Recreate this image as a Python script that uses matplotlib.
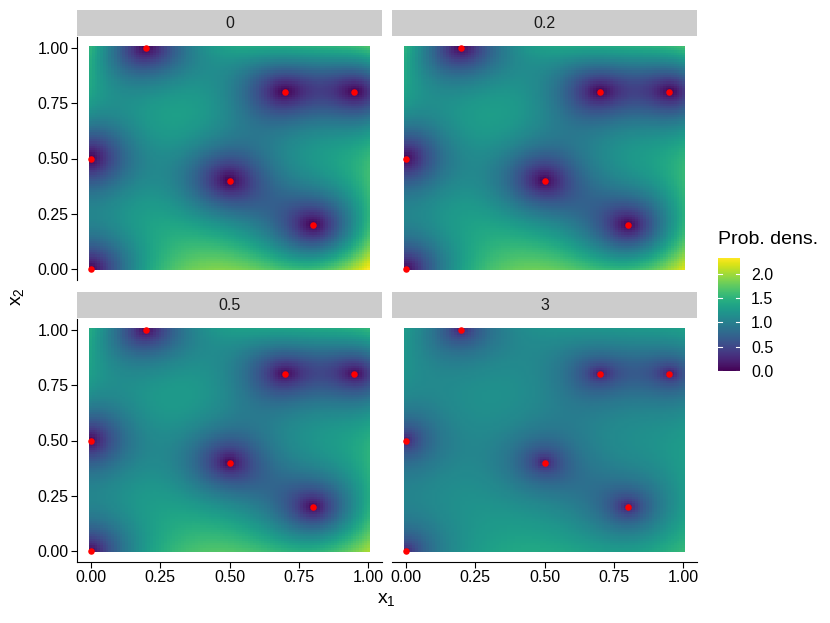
import matplotlib
matplotlib.use("Agg")
import matplotlib.pyplot as plt
import numpy as np

# design points (red dots)
x1_pts = [0.0, 0.0, 0.2, 0.5, 0.7, 0.95, 0.8]
x2_pts = [0.0, 0.5, 1.0, 0.4, 0.8, 0.8, 0.2]

# facet labels and the tempering exponent used for each panel
facet_labels = ["0", "0.2", "0.5", "3"]
facet_power = [0.56, 0.52, 0.46, 0.28]

# kernel settings of the underlying GP (linear trend, Matern 3/2)
length_scale = 0.5
n_grid = 101

cbar_ticks = [0.0, 0.5, 1.0, 1.5, 2.0]
axis_ticks = [0.0, 0.25, 0.5, 0.75, 1.0]
axis_ticklabels = ["0.00", "0.25", "0.50", "0.75", "1.00"]


def kernel(a, b):
    d = np.sqrt(((a[:, None, :] - b[None, :, :]) ** 2).sum(-1))
    r = np.sqrt(3) * d / length_scale
    return (1 + r) * np.exp(-r)


def density_fields():
    pts = np.column_stack([x1_pts, x2_pts])
    g = np.linspace(0, 1, n_grid)
    gx, gy = np.meshgrid(g, g)
    grid = np.column_stack([gx.ravel(), gy.ravel()])
    K = kernel(pts, pts) + 1e-10 * np.eye(len(pts))
    k = kernel(grid, pts)
    Kik = np.linalg.solve(K, k.T)
    var = 1 - np.einsum("ij,ji->i", k, Kik)
    F = np.column_stack([np.ones(len(pts)), pts])
    f = np.column_stack([np.ones(len(grid)), grid])
    u = f - (F.T @ Kik).T
    A = F.T @ np.linalg.solve(K, F)
    var = var + np.einsum("ij,ji->i", u, np.linalg.solve(A, u.T))
    var = np.clip(var, 0, None).reshape(n_grid, n_grid)
    out = []
    for p in facet_power:
        d = var ** p
        d = d / d.mean()
        out.append(d)
    return out


fields = density_fields()
vmax = max(f.max() for f in fields)

plt.rcParams["font.family"] = ["Liberation Sans", "DejaVu Sans"]

W, H = 830, 623
fig = plt.figure(figsize=(W / 100, H / 100), dpi=100)

panel_left = [77, 392]
panel_top = [37, 319]
pw, ph = 305, 243
strip_h = 26

h = 1.0 / (n_grid - 1)
ext = (-h / 2, 1 + h / 2, -h / 2, 1 + h / 2)

for i, lab in enumerate(facet_labels):
    row, col = divmod(i, 2)
    l = panel_left[col]
    t = panel_top[row]
    ax = fig.add_axes([l / W, (H - t - ph) / H, pw / W, ph / H])
    im = ax.imshow(fields[i], origin="lower", extent=ext, cmap="viridis",
                   vmin=0, vmax=vmax, interpolation="nearest", aspect="auto")
    ax.scatter(x1_pts, x2_pts, s=22, color="red", zorder=3, clip_on=False,
               linewidths=0)
    ax.set_xlim(-0.05, 1.05)
    ax.set_ylim(-0.05, 1.05)
    for s in ["top", "right"]:
        ax.spines[s].set_visible(False)
    ax.spines["left"].set_visible(col == 0)
    ax.spines["bottom"].set_visible(row == 1)
    ax.tick_params(direction="out", length=4, width=0.8, labelsize=11.5,
                   color="black", pad=2)
    ax.set_xticks(axis_ticks)
    ax.set_yticks(axis_ticks)
    if row == 1:
        ax.set_xticklabels(axis_ticklabels)
    else:
        ax.tick_params(axis="x", bottom=False, labelbottom=False)
    if col == 0:
        ax.set_yticklabels(axis_ticklabels)
    else:
        ax.tick_params(axis="y", left=False, labelleft=False)

    sax = fig.add_axes([l / W, (H - t + 1) / H, pw / W, strip_h / H])
    sax.set_facecolor("#cccccc")
    sax.set_xticks([])
    sax.set_yticks([])
    for s in sax.spines.values():
        s.set_visible(False)
    sax.text(0.5, 0.5, lab, ha="center", va="center", fontsize=11.5,
             color="#1a1a1a")

fig.text(386 / W, 1 - 600 / H, r"$\mathregular{x_1}$", ha="center",
         va="center", fontsize=14)
fig.text(17 / W, 1 - 297 / H, r"$\mathregular{x_2}$", ha="center",
         va="center", fontsize=14, rotation=90)

# colour bar
cax = fig.add_axes([718 / W, (H - 371) / H, 22 / W, 113 / H])
cb = fig.colorbar(im, cax=cax, ticks=cbar_ticks)
cb.outline.set_visible(False)
cb.ax.tick_params(length=0, labelsize=11.5, pad=8)
cb.ax.set_yticklabels([f"{v:.1f}" for v in cbar_ticks])
for v in cbar_ticks:
    cax.plot([0, 0.2], [v, v], color="white", lw=0.8, transform=cax.get_yaxis_transform())
    cax.plot([0.8, 1], [v, v], color="white", lw=0.8, transform=cax.get_yaxis_transform())
fig.text(718 / W, 1 - 240 / H, "Prob. dens.", ha="left", va="center",
         fontsize=14)

fig.savefig("out.png", dpi=100)
